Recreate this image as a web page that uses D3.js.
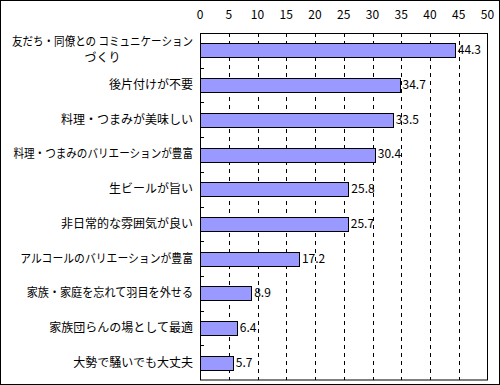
<!DOCTYPE html>
<html>
<head>
<meta charset="utf-8">
<script src="https://cdn.jsdelivr.net/npm/d3@7"></script>
<style>
  body { margin: 0; background: #fff; }
  text { font-family: "Noto Sans CJK JP", sans-serif; font-size: 12px; fill: #000; }
</style>
</head>
<body>
<div id="chart"></div>
<script>
var categories = [
    ["友だち・同僚との コミュニケーション", "づくり"],
    ["後片付けが不要"],
    ["料理・つまみが美味しい"],
    ["料理・つまみのバリエーションが豊富"],
    ["生ビールが旨い"],
    ["非日常的な雰囲気が良い"],
    ["アルコールのバリエーションが豊富"],
    ["家族・家庭を忘れて羽目を外せる"],
    ["家族団らんの場として最適"],
    ["大勢で騒いでも大丈夫"]
];
var values = [44.3, 34.7, 33.5, 30.4, 25.8, 25.7, 17.2, 8.9, 6.4, 5.7];
var tickValues = [0, 5, 10, 15, 20, 25, 30, 35, 40, 45, 50];

var width = 500, height = 385;
var plotLeft = 200, plotRight = 487.5, plotTop = 33, plotBottom = 380;
var labelX = 193;

var svg = d3.select("#chart").append("svg")
    .attr("width", width)
    .attr("height", height);

// outer border
svg.append("rect")
    .attr("x", 0.5).attr("y", 0.5)
    .attr("width", width - 1).attr("height", height - 1)
    .attr("fill", "none").attr("stroke", "#000");

var x = d3.scaleLinear().domain([0, 50]).range([plotLeft, plotRight]);
var y = d3.scaleBand().domain(d3.range(categories.length)).range([plotTop, plotBottom]).paddingInner(0.6).paddingOuter(0.3);

// gridlines
svg.selectAll(".grid")
    .data(tickValues.slice(1, -1))
    .enter()
    .append("line")
    .attr("class", "grid")
    .attr("x1", function(d) { return Math.round(x(d)) + 0.5; })
    .attr("x2", function(d) { return Math.round(x(d)) + 0.5; })
    .attr("y1", plotTop)
    .attr("y2", plotBottom)
    .attr("stroke", "#000")
    .attr("stroke-dasharray", "4,4");

// plot frame
svg.append("rect")
    .attr("x", plotLeft + 0.5).attr("y", plotTop + 0.5)
    .attr("width", plotRight - plotLeft - 0.5).attr("height", plotBottom - plotTop - 0.5)
    .attr("fill", "none").attr("stroke", "#000");

// top axis labels
svg.selectAll(".tick-label")
    .data(tickValues)
    .enter()
    .append("text")
    .attr("class", "tick-label")
    .attr("x", function(d) { return x(d); })
    .attr("y", 19)
    .attr("text-anchor", "middle")
    .text(function(d) { return d; });

// category tick marks (band boundaries)
var step = (plotBottom - plotTop) / categories.length;
svg.selectAll(".ctick")
    .data(d3.range(1, categories.length))
    .enter()
    .append("line")
    .attr("class", "ctick")
    .attr("x1", plotLeft)
    .attr("x2", plotLeft + 4)
    .attr("y1", function(d) { return Math.round(plotTop + d * step) + 0.5; })
    .attr("y2", function(d) { return Math.round(plotTop + d * step) + 0.5; })
    .attr("stroke", "#000");

// bars
svg.selectAll(".bar")
    .data(values)
    .enter()
    .append("rect")
    .attr("class", "bar")
    .attr("x", plotLeft + 0.5)
    .attr("y", function(d, i) { return Math.round(y(i)) + 0.5; })
    .attr("width", function(d) { return Math.round(x(d) - plotLeft); })
    .attr("height", Math.round(y.bandwidth()))
    .attr("fill", "#9999ff")
    .attr("stroke", "#000");

// value labels
svg.selectAll(".val")
    .data(values)
    .enter()
    .append("text")
    .attr("class", "val")
    .attr("x", function(d) { return x(d) + 3; })
    .attr("y", function(d, i) { return y(i) + y.bandwidth() / 2 + 4; })
    .text(function(d) { return d.toFixed(1); });

// category labels
var labels = svg.selectAll(".cat")
    .data(categories)
    .enter()
    .append("text")
    .attr("class", "cat")
    .attr("y", function(d, i) {
        var c = y(i) + y.bandwidth() / 2 + 4;
        return d.length > 1 ? c - 8 : c;
    });

labels.selectAll("tspan")
    .data(function(d) { return d; })
    .enter()
    .append("tspan")
    .attr("text-anchor", "end")
    .attr("x", labelX)
    .attr("dy", function(d, i) { return i === 0 ? 0 : 16; })
    .text(function(d) { return d; });

// squeeze long labels a bit (the original font has narrow kana)
var firstWidth = {};
labels.each(function(d, i) {
    d3.select(this).selectAll("tspan").each(function(t, j) {
        var w = this.getComputedTextLength();
        if (w > 150) {
            w = 150 + (w - 150) * 0.55;
            d3.select(this)
                .attr("textLength", w)
                .attr("lengthAdjust", "spacingAndGlyphs");
        }
        if (j === 0) firstWidth[i] = w;
    });
});

// wrapped lines are centred under the first line
labels.each(function(d, i) {
    d3.select(this).selectAll("tspan")
        .filter(function(t, j) { return j > 0; })
        .attr("text-anchor", "middle")
        .attr("x", labelX - firstWidth[i] / 2);
});
</script>
</body>
</html>
